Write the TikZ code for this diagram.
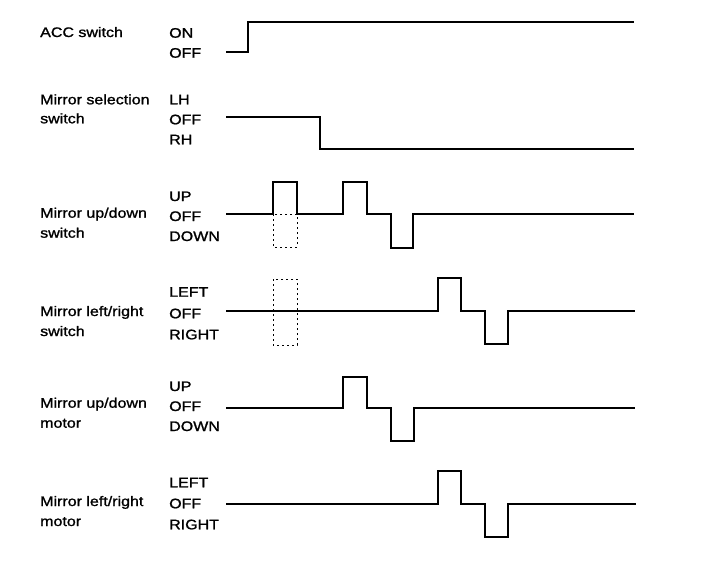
\documentclass[tikz,border=0pt]{standalone}
\usepackage{fontspec}
\usepackage{graphicx}
\setmainfont{Liberation Sans}
\newfontfamily\lblfont[FakeBold=1.2]{Liberation Sans}
\newcommand\tx[1]{\scalebox{1.16}[1]{#1}}
\tikzset{
  lbl/.style={anchor=base west, inner sep=0pt, font=\lblfont\fontsize{13.8}{16}\selectfont},
  wave/.style={line width=2pt, line join=miter},
  ghost/.style={line width=0.8pt, dash pattern=on 2pt off 3pt}
}
\begin{document}
\begin{tikzpicture}[x=1pt,y=-1pt]
\useasboundingbox (0,0) rectangle (704,560);
% ---- left labels
\node[lbl] (l1a) at (40,37) {\tx{ACC switch}};
\node[lbl] (l2a) at (40,104.3) {\tx{Mirror selection}};
\node[lbl] (l2b) at (40,123.3) {\tx{switch}};
\node[lbl] (l3a) at (40,217.7) {\tx{Mirror up/down}};
\node[lbl] (l3b) at (40,237.7) {\tx{switch}};
\node[lbl] (l4a) at (40,316) {\tx{Mirror left/right}};
\node[lbl] (l4b) at (40,336) {\tx{switch}};
\node[lbl] (l5a) at (40,407.7) {\tx{Mirror up/down}};
\node[lbl] (l5b) at (40,427.7) {\tx{motor}};
\node[lbl] (l6a) at (40,506) {\tx{Mirror left/right}};
\node[lbl] (l6b) at (40,526) {\tx{motor}};
% ---- state labels
\node[lbl] (s1a) at (169,37.7) {\tx{ON}};
\node[lbl] (s1b) at (169,57.7) {\tx{OFF}};
\node[lbl] (s2a) at (169,104.3) {\tx{LH}};
\node[lbl] (s2b) at (169,124.3) {\tx{OFF}};
\node[lbl] (s2c) at (169,144.3) {\tx{RH}};
\node[lbl] (s3a) at (169,201) {\tx{UP}};
\node[lbl] (s3b) at (169,221) {\tx{OFF}};
\node[lbl] (s3c) at (169,241) {\tx{DOWN}};
\node[lbl] (s4a) at (169,296.7) {\tx{LEFT}};
\node[lbl] (s4b) at (169,318.3) {\tx{OFF}};
\node[lbl] (s4c) at (169,339.3) {\tx{RIGHT}};
\node[lbl] (s5a) at (169,391) {\tx{UP}};
\node[lbl] (s5b) at (169,411) {\tx{OFF}};
\node[lbl] (s5c) at (169,431) {\tx{DOWN}};
\node[lbl] (s6a) at (169,487.3) {\tx{LEFT}};
\node[lbl] (s6b) at (169,508.3) {\tx{OFF}};
\node[lbl] (s6c) at (169,529.3) {\tx{RIGHT}};
% ---- waveforms
\draw[wave] (226,52) -- (248,52) -- (248,22) -- (634,22);
\draw[wave] (226,117) -- (320,117) -- (320,149) -- (634,149);
\draw[ghost] (273,214) rectangle (297,247);
\draw[wave] (226,214) -- (273,214) -- (273,182) -- (297,182) -- (297,214)
  -- (343,214) -- (343,182) -- (367,182) -- (367,214) -- (391,214)
  -- (391,248) -- (413,248) -- (413,214) -- (634,214);
\draw[ghost] (273,279) rectangle (297,345);
\draw[wave] (226,311) -- (438,311) -- (438,278) -- (461,278) -- (461,311)
  -- (485,311) -- (485,344) -- (508,344) -- (508,311) -- (635,311);
\draw[wave] (226,408) -- (343,408) -- (343,377) -- (367,377) -- (367,408)
  -- (391,408) -- (391,441) -- (414,441) -- (414,408) -- (635,408);
\draw[wave] (226,504) -- (438,504) -- (438,471) -- (461,471) -- (461,504)
  -- (485,504) -- (485,537) -- (508,537) -- (508,504) -- (636,504);
\end{tikzpicture}
\end{document}
